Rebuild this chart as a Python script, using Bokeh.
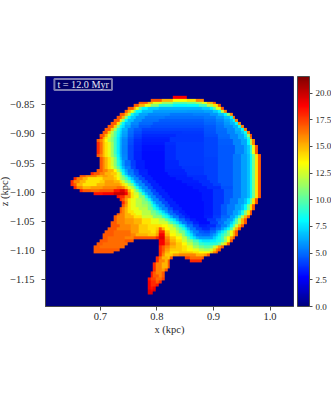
from bokeh.embed import file_html
from bokeh.resources import INLINE
from bokeh.plotting import figure
from bokeh.models import LinearColorMapper, ColorBar, FixedTicker, Label
import numpy as np

# Reference values
x_ticks = [0.7, 0.8, 0.9, 1.0]
x_labels = ["0.7", "0.8", "0.9", "1.0"]
z_ticks = [-0.85, -0.90, -0.95, -1.00, -1.05, -1.10, -1.15]
z_labels = ["\u22120.85", "\u22120.90", "\u22120.95", "\u22121.00", "\u22121.05", "\u22121.10", "\u22121.15"]
cb_ticks = [0, 2.5, 5, 7.5, 10, 12.5, 15, 17.5, 20]
cb_labels = ["0.0", "2.5", "5.0", "7.5", "10.0", "12.5", "15.0", "17.5", "20.0"]
vmax = 21.55
time_text = "t = 12.0 Myr"

# Field per grid row: "first_col:value" runs
field_rows = {
 7: "45:19 50:0",
 8: "37:17 41:15 45:13.5 50:14 53:16 56:0",
 9: "33:17 36:15 38:13 41:11.5 45:10 50:10.5 53:11.5 55:13 57:15 59:17 60:0",
 10: "31:17 33:15 35:13 37:11 40:9 45:8 50:8.2 54:9.5 57:12 59:14 61:17 62:0",
 11: "29:17 31:15 32:13 33:10 34:8 36:7 40:6.5 55:7 58:8 59:10 60:13 62:17 63:0",
 12: "28:17 29:15 30:13 31:10.5 32:8 34:6.8 38:6 50:5.9 56:6.2 59:7 61:8 62:12 63:16 64:0",
 13: "26:17 28:15 29:12 30:8.5 31:7.3 33:6.2 36:5.6 44:5.3 52:5.4 58:5.9 61:6.8 63:8 64:11 65:16 66:0",
 14: "25:17 27:15 28:11 29:8 30:7 32:5.9 35:5.3 42:5 56:5.3 60:5.9 63:6.8 65:8 66:16 67:0",
 15: "24:17 26:14 27:11 28:8 29:6.8 31:5.8 34:5.1 40:4.7 56:5 60:5.5 63:6.2 65:6.9 66:8 67:16 68:0",
 16: "23:17 25:14 26:10.5 27:8 28:6.8 30:5.6 33:4.9 38:4.5 56:4.8 60:5.3 63:5.9 65:6.5 67:8 68:16 69:0",
 17: "22:17 24:14.5 25:11 26:8.5 27:7.5 28:6.3 30:5.3 33:4.6 37:4.3 56:4.6 60:5.1 63:5.7 66:6.4 68:8.5 69:16 70:0",
 18: "21:17 23:14.5 24:11.5 25:9 26:7.7 27:6.4 29:5.2 31:4.6 34:4.1 56:4.5 60:5 64:5.6 67:6.5 69:8 70:16 71:0",
 19: "20:17 22:14.5 23:12 24:10 25:8.5 26:7.4 27:6.2 29:5 31:4.3 34:3.8 48:3.9 56:4.4 60:4.9 64:5.5 67:6.3 69:7 70:8.5 71:16 72:0",
 20: "19:17 21:15 22:13 23:11.5 24:10 25:8 26:7 27:6 29:4.8 31:4.1 34:3.6 46:3.8 56:4.3 61:4.9 65:5.5 68:6.3 70:7.5 71:11 72:17 73:0",
 21: "19:18 20:15.5 21:14 22:12.5 23:11 24:9.5 25:7.8 26:6.6 27:5.7 29:4.6 31:3.9 34:3.4 44:3.8 56:4.2 61:4.8 65:5.5 68:6.3 70:7 71:9 72:16 73:0",
 22: "18:17 19:16 20:15 21:13.5 22:12 23:11 24:9.5 25:7.8 26:6.5 27:5.5 29:4.4 31:3.7 34:3.3 44:3.8 56:4.2 61:4.7 66:5.5 69:6.3 71:8 72:12 73:16 74:0",
 23: "18:18 19:16.5 20:15 21:14 22:13 23:11.5 24:9.5 25:7.8 26:6.5 27:5.5 29:4.3 31:3.6 34:3.2 42:3.7 46:3.9 56:4.2 61:4.7 66:5.5 69:6.3 71:8 72:12 73:16 74:0",
 24: "18:18 19:16.5 20:15 21:14 22:13 23:11.5 24:9.5 25:7.8 26:6.4 27:5.4 29:4.2 31:3.5 34:3.1 42:3.6 46:3.9 56:4.2 61:4.6 67:5.5 70:6.3 71:7 72:9 73:13 74:17 75:0",
 25: "18:18 19:16.5 20:15 21:14 22:13 23:11.5 24:9.5 25:7.8 26:6.4 27:5.4 29:4.2 31:3.5 34:3.1 42:3.6 46:3.9 56:4.2 61:4.6 67:5.5 70:6.3 71:7 72:9 73:13 74:17 75:0",
 26: "18:18 19:16.5 20:15 21:14 22:13 23:11.5 24:9.5 25:7.8 26:6.4 27:5.4 29:4.2 31:3.4 34:3 42:3.6 46:3.9 56:4.2 61:4.6 67:5.5 70:6.3 71:7 72:9 73:13 74:17 75:0",
 27: "18:17 19:16 20:15 21:14 22:13 23:11.5 24:10 25:8 26:6.6 27:5.5 29:4.2 31:3.4 34:3 42:3.6 46:3.9 56:4.2 61:4.6 66:5.3 69:6.1 71:6.8 72:8 73:10.5 74:14 75:17 76:0",
 28: "19:17 20:16 21:15 22:14 23:12.5 24:11 25:8.5 26:7 27:5.6 29:4.2 31:3.4 34:3 42:3.6 46:3.9 56:4.1 61:4.6 66:5.3 69:6.1 71:6.8 72:8 73:10.5 74:14 75:17 76:0",
 29: "19:17 20:16 21:15 22:14 23:12.5 24:11 25:9 26:7.5 27:6 28:5 30:4 32:3.3 35:3 42:3.5 47:3.9 56:4.1 61:4.6 66:5.3 69:6.1 71:6.8 72:8 73:10.5 74:14 75:17 76:0",
 30: "19:17 20:16 21:15 22:14 23:12.5 24:11 25:9 26:7.5 27:6 28:5 30:4 32:3.3 35:3 42:3.5 47:3.9 56:4.1 61:4.6 66:5.3 69:6.1 71:6.8 72:8 73:10.5 74:14 75:17 76:0",
 31: "19:17 20:16 21:15 22:14 23:13 24:11.5 25:10 26:8 27:6.6 28:5.4 30:4.2 32:3.3 35:3 42:3.5 48:3.8 56:4.1 61:4.6 66:5.3 69:6.1 71:6.8 72:8 73:10.5 74:14 75:17 76:0",
 32: "18:17 20:16 22:15 24:13.5 25:11.5 26:9.5 27:7.7 28:6.3 29:5.2 31:4.2 33:3.4 36:3 42:3.4 49:3.8 56:4.1 61:4.6 66:5.3 69:6.1 71:6.8 72:8 73:10.5 74:14 75:17 76:0",
 33: "16:18 17:17 19:16 21:15 23:14.5 25:13 26:11.5 27:8.5 28:6.8 29:5.4 31:4.4 33:3.5 36:3 43:3.4 50:3.8 56:4.1 61:4.6 66:5.3 69:6.1 71:6.8 72:8 73:10.5 74:14 75:17 76:0",
 34: "12:17 14:16 18:15 20:15.5 22:15 24:14 25:13 26:12 27:10.5 28:8.5 29:6.8 30:5.5 32:4.4 34:3.4 37:3 44:3.3 50:3.7 57:4.1 61:4.6 66:5.3 69:6.1 71:6.8 72:8 73:10.5 74:14 75:17 76:0",
 35: "10:18 11:16 13:15 15:14 18:14 20:15 22:15 24:14.5 25:13.5 26:12 27:11 28:9.8 29:8 30:6.8 31:5.5 33:4.3 35:3.4 38:3 46:3.3 52:3.7 57:4.1 61:4.6 66:5.3 69:6.1 71:6.8 72:8 73:10.5 74:14 75:17 76:0",
 36: "9:18 10:16 12:15 14:14 19:14.5 21:15.5 24:15 26:14 27:12.5 28:11 29:10 30:8 31:6.8 32:5.6 34:4.3 36:3.4 39:3 48:3.3 54:3.7 58:4.1 61:4.6 66:5.3 69:6.1 71:6.8 72:8 73:10.5 74:14 75:17 76:0",
 37: "9:18 10:17 11:15 13:14 18:15 21:15.5 25:15.5 26:15 27:14 28:13 29:11.5 30:10.5 31:8 32:6.8 33:5.6 35:4.3 37:3.4 40:3 50:3.2 55:3.7 59:4.1 62:4.6 66:5.3 69:6.1 71:6.8 72:8 73:10.5 74:14 75:17 76:0",
 38: "10:18 11:16 13:15 16:15.5 20:16 25:16.5 27:16 28:14.5 29:13 30:12 31:10.5 32:8.5 33:6.8 34:5.6 36:4.3 38:3.4 41:3 52:3.2 57:3.7 62:4.4 66:5.3 69:6.1 71:6.8 72:8 73:10.5 74:14 75:17 76:0",
 39: "12:18 13:17 16:16.5 19:17 24:18.5 26:19.5 28:18 29:15 30:13.5 31:12 32:10.5 33:8.5 34:6.8 35:5.6 37:4.3 39:3.4 42:3 54:3.2 59:3.8 63:4.6 66:5.3 69:6.1 71:6.8 72:8 73:10.5 74:14 75:17 76:0",
 40: "17:18.5 20:19 24:20 28:19 29:16 30:14 31:12.5 33:10.5 34:8.5 35:6.8 36:5.6 38:4.3 40:3.4 43:3 55:3.2 59:3.8 63:4.6 66:5.3 69:6.1 71:6.8 72:8 73:10.5 74:14 75:17 76:0",
 41: "25:18.5 26:18 28:16 30:14 31:13 33:11 35:8.5 36:6.8 37:5.6 39:4.3 41:3.4 44:3 55:3.2 59:3.8 63:4.6 66:5.3 69:6.1 71:6.8 72:8 73:10.5 74:14 75:17 76:0",
 42: "26:18 27:17 28:15.5 29:14 30:13 32:12 34:11 35:10 36:8.5 37:6.8 38:5.6 40:4.3 42:3.4 45:3 55:3.2 59:3.8 63:4.6 65:5.3 68:6.1 70:6.8 71:8 72:10.5 73:14 74:17 75:0",
 43: "27:18 28:16 29:14 30:13 32:12 34:11 36:10 37:8.5 38:6.8 39:5.6 41:4.3 43:3.4 46:3 56:3.2 59:3.8 63:4.6 65:5.3 68:6.1 70:6.8 71:8 72:10.5 73:14 74:17 75:0",
 44: "27:17 28:15.5 29:14 30:13 32:12 34:11.5 36:10.5 37:9.5 38:8 39:6.8 40:5.6 42:4.3 44:3.4 47:3 56:3.2 59:3.8 62:4.6 64:5.3 67:6.1 69:6.8 70:8 71:10.5 72:14 73:17 74:0",
 45: "26:17 27:16 28:15 29:14 30:13 33:12 36:10.5 38:9 39:7.8 40:6.6 41:5.5 43:4.3 45:3.4 48:3 56:3.2 59:3.8 62:4.6 64:5.3 67:6.1 69:6.8 70:8 71:10.5 72:14 73:17 74:0",
 46: "26:17 27:16 28:15 29:14 31:13 34:12 37:10.5 39:9.5 40:8.5 41:7.2 42:6 43:5 45:4 47:3.3 49:3 56:3.2 59:3.8 62:4.6 64:5.3 66:6.1 68:6.9 69:8.5 70:11 71:14 72:17 73:0",
 47: "25:17 26:16 28:15 30:14 32:13 34:12 37:11 39:10 40:9.5 41:8.5 42:7.5 43:6.3 44:5 46:4 48:3.3 50:3 56:3.2 59:3.8 62:4.6 64:5.3 66:6.1 68:6.9 69:8.5 70:11 71:14 72:17 73:0",
 48: "24:17 25:16 28:15 31:14 34:12.5 38:11 41:9.5 42:8.5 43:7.7 44:6.5 45:5.3 47:4 49:3.3 51:3 56:3.3 59:4 62:4.9 65:6 67:7.2 68:9.5 69:12 70:15 71:17 72:0",
 49: "24:17 25:16 28:15.5 31:15 34:14 37:13 40:12 42:10.5 43:9.5 44:8.5 45:7.5 46:6.2 47:5 49:4 51:3.3 53:3 57:3.8 60:4.6 62:5.2 64:6 66:7.2 67:9.5 68:12 69:15 70:17 71:0",
 50: "23:17 25:16 28:15.5 31:15 34:14 37:13 40:12.5 43:11 44:10 45:9 46:7.8 47:6.5 48:5.3 50:4.3 52:3.4 54:3 58:4 61:5 63:6 65:7 66:8.5 67:10 68:12 69:15 70:17 71:0",
 51: "23:17 26:16 30:15.5 33:14.5 36:14 39:14 41:13.5 43:12.5 45:11 46:10 47:8.5 48:7.5 49:6.3 50:5.2 52:4.1 54:3.3 57:3.6 60:4.5 62:5.4 64:6.5 65:8 66:10 67:12.5 68:15 69:17 70:0",
 52: "22:17 25:16 30:15.5 33:14.5 36:14 39:14.5 40:17 41:15 42:13.5 44:12.5 46:11 47:10 48:9 49:7.8 50:6.5 51:5.3 53:4.2 55:3.6 58:4.3 60:5 62:6 63:7 64:8 65:10 66:12.5 67:15 68:17 69:0",
 53: "21:17 24:16.5 30:15.5 33:14.5 37:14 39:15 40:18 42:14.5 44:13 46:12 47:10.5 49:9 50:7.8 51:6.5 52:5.5 54:4.6 56:4.3 58:4.9 60:6 61:6.8 62:7.8 63:9 64:11 65:13 66:15 67:17 68:0",
 54: "20:17 24:16.5 30:16 32:15 36:14.5 39:15.5 40:19 42:15 44:13.5 46:12.5 48:11 49:9.5 50:8.5 51:7.5 52:6.2 53:5.2 55:4.9 58:5.4 59:6 60:6.8 61:7.8 62:9 63:10 64:11 65:13 66:15 67:17 68:0",
 55: "20:17 22:16.5 28:16 31:17 39:18 40:19.5 42:16 44:14.5 46:13.5 48:12 50:10 51:8.5 52:7.5 53:6.5 54:6 57:6 59:7 60:7.8 61:8.5 62:9.5 63:11.5 64:13.5 65:15.5 66:17 67:0",
 56: "19:17 22:16.5 28:17 31:0 40:19 42:16.5 44:15 46:14 48:12.5 50:11 52:9.5 54:8 55:7.5 58:7.8 60:8.5 62:9.5 63:11 64:13.5 65:17 66:0",
 57: "18:17 20:16.5 29:0 40:19 42:17 44:15.5 46:14.5 48:13.5 50:12 52:10.5 54:9.2 56:8.8 59:9 61:10 62:12 63:14 64:17 65:0",
 58: "17:17 19:16.5 28:0 40:18 41:17 42:16 44:15 46:14.5 48:14 50:13 52:11.5 54:10.5 56:10 58:10.5 59:12 60:14 61:15.5 62:17 63:0",
 59: "17:17 26:0 40:18 41:17 42:15.5 44:14.5 48:14 50:13.5 52:13 54:12 56:11.5 58:12.5 59:14.5 60:16 61:17 62:0",
 60: "17:17 24:0 40:18 41:16.5 42:15 44:14 47:14.5 52:14 54:13.5 58:14.5 59:16 60:17 61:0",
 61: "40:18 41:16 42:14.5 45:15.5 47:16 53:15 56:15.5 57:17 58:0",
 62: "39:18 40:16.5 41:15 43:14.5 44:17 45:0 49:17.5 51:16.5 55:17 56:0",
 63: "39:18 40:16 42:15 43:17 44:0 51:18 55:0",
 64: "38:18 39:16 41:15 43:17 44:0",
 65: "38:18 39:16 41:15 43:17 44:0",
 66: "38:18 39:16 41:15.5 42:17 43:0",
 67: "37:18.5 38:17 39:16 41:17 42:0",
 68: "37:18.5 38:17 40:16 41:17 42:0",
 69: "36:18.5 37:17.5 39:16.5 41:17.5 42:0",
 70: "36:19 37:18 39:17 40:18 41:0",
 71: "36:19 37:18 39:18.5 40:0",
 72: "36:19 37:18.5 38:19 39:0",
 73: "36:19.5 37:19 38:19.5 39:0",
 74: "36:19.5 38:0",
}

n_rows, n_cols = 80, 90
cell = 0.005
field = np.zeros((n_rows, n_cols))
for row, runs in field_rows.items():
    for tok in runs.split():
        col, val = tok.split(":")
        field[row, int(col):] = float(val)


def jet(t):
    r = np.clip(1.5 - abs(4 * t - 3), 0, 1)
    g = np.clip(1.5 - abs(4 * t - 2), 0, 1)
    b = np.clip(1.5 - abs(4 * t - 1), 0, 1)
    return "#%02x%02x%02x" % (int(r * 255), int(g * 255), int(b * 255))


palette = [jet(i / 255) for i in range(256)]
mapper = LinearColorMapper(palette=palette, low=0, high=vmax)

FONT = "Liberation Serif"
INK = "#2a2a2a"
EDGE = "#4a4a4a"

x0, x1 = 0.603, 1.0415
z_top, z_bot = -0.802, -1.1955

p = figure(width=331, height=414, output_backend="svg", toolbar_location=None,
           x_range=(x0, x1), y_range=(z_bot, z_top),
           frame_width=248, frame_height=230,
           min_border_left=53, min_border_top=84, min_border_bottom=60, min_border_right=0,
           background_fill_color="white", border_fill_color="white")
p.styles = {"margin": "-8px 0 0 -8px"}
p.grid.visible = False
p.outline_line_color = EDGE
p.outline_line_width = 1

p.image(image=[field[::-1]], x=x0, y=z_top + 0.0012 - cell * n_rows,
        dw=cell * n_cols, dh=cell * n_rows, color_mapper=mapper)

for ax, ticks, labels, name in ((p.xaxis[0], x_ticks, x_labels, "x (kpc)"),
                                (p.yaxis[0], z_ticks, z_labels, "z (kpc)")):
    ax.ticker = FixedTicker(ticks=ticks)
    ax.major_label_overrides = dict(zip(ticks, labels))
    ax.axis_label = name
    ax.axis_label_text_font = FONT
    ax.axis_label_text_font_style = "normal"
    ax.axis_label_text_font_size = "10.5px"
    ax.axis_label_text_color = INK
    ax.major_label_text_font = FONT
    ax.major_label_text_font_size = "10.5px"
    ax.major_label_text_color = INK
    ax.axis_line_color = EDGE
    ax.major_tick_line_color = EDGE
    ax.major_tick_in = 0
    ax.major_tick_out = 4
    ax.minor_tick_line_color = None
    ax.major_label_standoff = 2
    ax.axis_label_standoff = 1
p.yaxis[0].major_label_orientation = "horizontal"
p.yaxis[0].major_label_standoff = 7
p.yaxis[0].axis_label_standoff = -3

cb = ColorBar(color_mapper=mapper, ticker=FixedTicker(ticks=cb_ticks),
              major_label_overrides=dict(zip(cb_ticks, cb_labels)),
              width=12, margin=0, padding=0, location=(4, 0),
              bar_line_color=EDGE, bar_line_width=1,
              major_tick_in=0, major_tick_out=3, major_tick_line_color=EDGE,
              minor_tick_line_color=None, label_standoff=3,
              major_label_text_font=FONT, major_label_text_font_size="9px",
              major_label_text_color=INK)
p.add_layout(cb, "right")

lab = Label(x=0.6187, y=-0.8157, text=time_text, text_font=FONT, text_font_size="10.2px",
            text_color="#e8e8f4", text_baseline="middle",
            background_fill_color="#00006a", border_line_color="#7c7cb4", border_line_width=2,
            padding=(3, 0))
p.add_layout(lab)

open("out.html", "w").write(file_html(p, INLINE))
